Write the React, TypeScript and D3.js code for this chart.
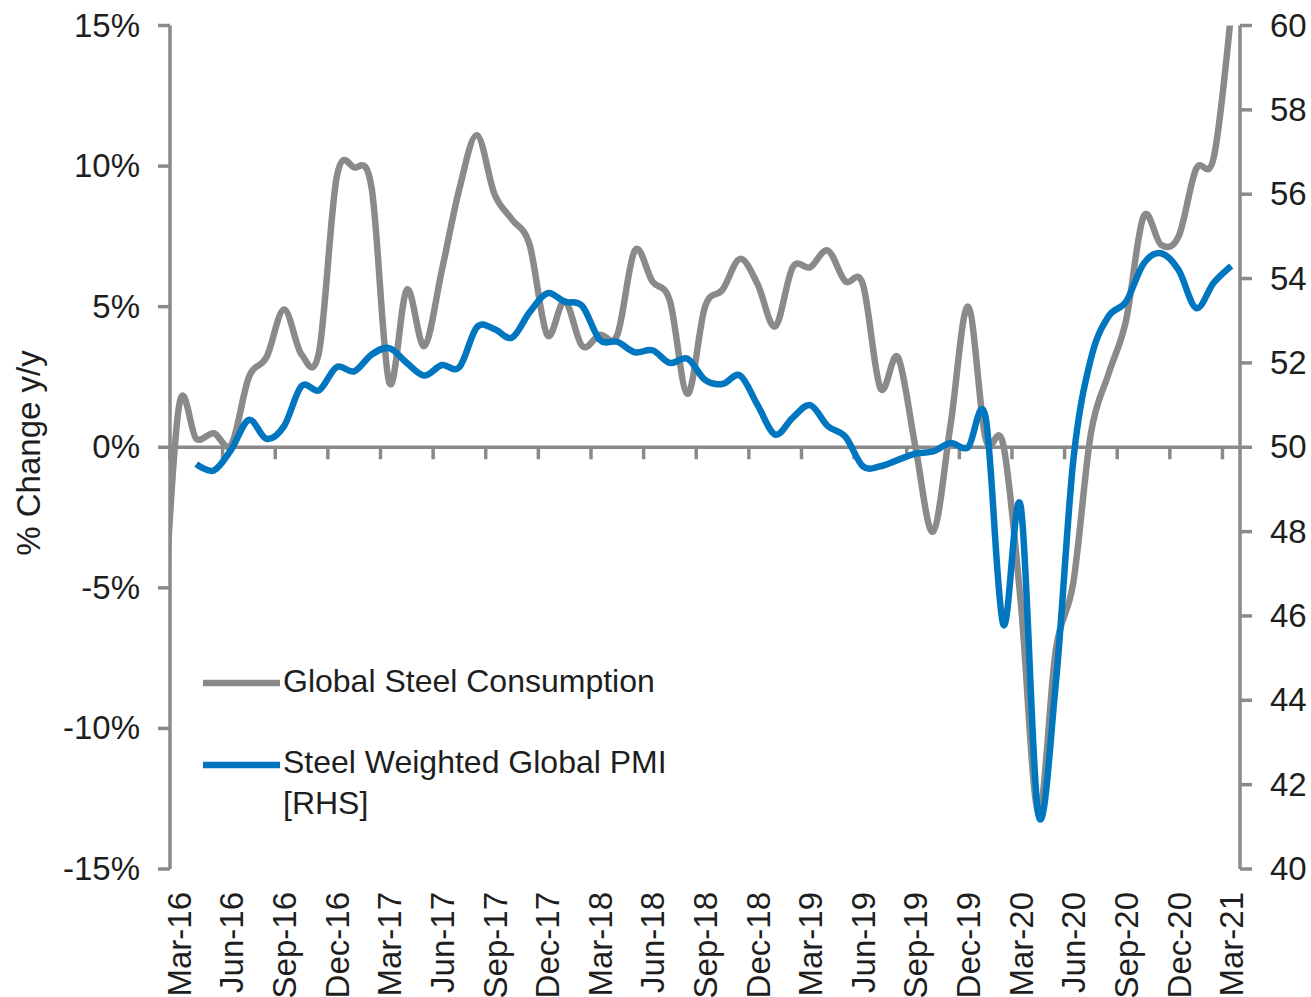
import React from "react";
import * as d3 from "d3";

const months: string[] = [
  "Mar-16","Apr-16","May-16","Jun-16","Jul-16","Aug-16","Sep-16","Oct-16","Nov-16","Dec-16",
  "Jan-17","Feb-17","Mar-17","Apr-17","May-17","Jun-17","Jul-17","Aug-17","Sep-17","Oct-17","Nov-17","Dec-17",
  "Jan-18","Feb-18","Mar-18","Apr-18","May-18","Jun-18","Jul-18","Aug-18","Sep-18","Oct-18","Nov-18","Dec-18",
  "Jan-19","Feb-19","Mar-19","Apr-19","May-19","Jun-19","Jul-19","Aug-19","Sep-19","Oct-19","Nov-19","Dec-19",
  "Jan-20","Feb-20","Mar-20","Apr-20","May-20","Jun-20","Jul-20","Aug-20","Sep-20","Oct-20","Nov-20","Dec-20",
  "Jan-21","Feb-21","Mar-21",
];

// Global steel consumption, % y/y; the series starts one month before the first category (Feb-16)
const consumptionStartIndex = -1;
const consumption: number[] = [
  -8,
  1.4, 0.3, 0.5, 0.1, 2.5, 3.2, 4.9, 3.3, 3.4, 9.6,
  9.95, 9.2, 2.3, 5.6, 3.6, 6.3, 9.2, 11.1, 9.0, 8.1, 7.2, 4.0,
  5.2, 3.6, 4.0, 4.0, 7.0, 5.9, 5.2, 1.9, 5.0, 5.6, 6.7, 5.8,
  4.3, 6.4, 6.4, 7.0, 5.9, 5.8, 2.1, 3.2, 0.0, -3.0, 0.8, 5.0,
  0.3, 0.1, -5.5, -13.0, -7.2, -4.8, 0.5, 2.6, 4.5, 8.2, 7.2, 7.5,
  9.9, 10.3, 15.5,
];

// Steel weighted global PMI (RHS)
const pmi: (number | null)[] = [
  null, 49.6, 49.45, 49.95, 50.65, 50.2, 50.5, 51.45, 51.35, 51.9,
  51.8, 52.2, 52.35, 52.0, 51.7, 51.95, 51.9, 52.85, 52.8, 52.6, 53.2, 53.65,
  53.45, 53.35, 52.55, 52.5, 52.25, 52.3, 52.0, 52.1, 51.6, 51.5, 51.7, 51.0,
  50.3, 50.7, 51.0, 50.5, 50.25, 49.55, 49.55, 49.7, 49.85, 49.9, 50.1, 50.0,
  50.7, 45.8, 48.6, 41.3, 44.4, 49.7, 52.1, 53.1, 53.45, 54.35, 54.6, 54.2,
  53.3, 53.9, 54.3,
];

const leftTicks: number[] = [-15, -10, -5, 0, 5, 10, 15];
const rightTicks: number[] = [40, 42, 44, 46, 48, 50, 52, 54, 56, 58, 60];
const seriesNames: string[] = ["Global Steel Consumption", "Steel Weighted Global PMI", "[RHS]"];
const yTitle = "% Change y/y";

const W = 1311;
const H = 997;
const plot = { left: 170, right: 1240, top: 25.5, bottom: 869 };
const GRAY = "#8a8a8a";
const BLUE = "#0076c0";
const TEXT = "#1e1e1e";
const FONT = "'Liberation Sans', Arial, sans-serif";

export default function App() {
  const n = months.length;
  const x = d3.scaleLinear().domain([-0.5, n - 0.5]).range([plot.left, plot.right]);
  const yL = d3.scaleLinear().domain([-15, 15]).range([plot.bottom, plot.top]);
  const yR = d3.scaleLinear().domain([40, 60]).range([plot.bottom, plot.top]);

  const line = d3.line<[number, number]>().x((d) => d[0]).y((d) => d[1]).curve(d3.curveCatmullRom.alpha(0));

  const grayPts: [number, number][] = consumption.map((v, i) => [x(i + consumptionStartIndex), yL(v)]);
  const bluePts: [number, number][] = [];
  pmi.forEach((v, i) => {
    if (v !== null) bluePts.push([x(i), yR(v)]);
  });

  const zeroY = yL(0);
  const xTickIdx = d3.range(0, n + 1, 3).filter((k) => k <= n);

  return (
    <svg width={W} height={H} style={{ position: "absolute", left: 0, top: 0, background: "#fff" }} fontFamily={FONT}>
      <defs>
        <clipPath id="plotclip">
          <rect x={plot.left} y={plot.top} width={plot.right - plot.left} height={plot.bottom - plot.top} />
        </clipPath>
      </defs>

      {/* left axis */}
      <line x1={plot.left} x2={plot.left} y1={plot.top} y2={plot.bottom} stroke={GRAY} strokeWidth={3.5} />
      {leftTicks.map((t) => (
        <g key={"l" + t}>
          <line x1={plot.left - 12} x2={plot.left} y1={yL(t)} y2={yL(t)} stroke={GRAY} strokeWidth={3.5} />
          <text x={140} y={yL(t) + 11} textAnchor="end" fontSize={33} fill={TEXT}>
            {t + "%"}
          </text>
        </g>
      ))}

      {/* right axis */}
      <line x1={plot.right} x2={plot.right} y1={plot.top} y2={plot.bottom} stroke={GRAY} strokeWidth={3.5} />
      {rightTicks.map((t) => (
        <g key={"r" + t}>
          <line x1={plot.right} x2={plot.right + 12} y1={yR(t)} y2={yR(t)} stroke={GRAY} strokeWidth={3.5} />
          <text x={1270} y={yR(t) + 11} textAnchor="start" fontSize={33} fill={TEXT}>
            {t}
          </text>
        </g>
      ))}

      {/* category axis at zero */}
      <line x1={plot.left} x2={plot.right} y1={zeroY} y2={zeroY} stroke={GRAY} strokeWidth={3.5} />
      {xTickIdx.map((k) => (
        <line key={"xt" + k} x1={x(k - 0.5)} x2={x(k - 0.5)} y1={zeroY} y2={zeroY + 12} stroke={GRAY} strokeWidth={3.5} />
      ))}
      {months.map((m, i) =>
        i % 3 === 0 ? (
          <text
            key={"xl" + i}
            transform={`translate(${x(i) + 12},${892}) rotate(-90)`}
            textAnchor="end"
            fontSize={33}
            fill={TEXT}
          >
            {m}
          </text>
        ) : null
      )}

      {/* y title */}
      <text transform={`translate(40,453) rotate(-90)`} textAnchor="middle" fontSize={33} fill={TEXT}>
        {yTitle}
      </text>

      {/* series */}
      <g clipPath="url(#plotclip)">
        <path d={line(grayPts) || ""} fill="none" stroke={GRAY} strokeWidth={6.5} strokeLinejoin="round" />
        <path d={line(bluePts) || ""} fill="none" stroke={BLUE} strokeWidth={6.5} strokeLinejoin="round" />
      </g>

      {/* legend */}
      <line x1={203} x2={280} y1={683} y2={683} stroke={GRAY} strokeWidth={6.5} />
      <text x={283} y={692} fontSize={32} fill={TEXT}>{seriesNames[0]}</text>
      <line x1={203} x2={280} y1={765} y2={765} stroke={BLUE} strokeWidth={6.5} />
      <text x={283} y={773} fontSize={32} fill={TEXT}>{seriesNames[1]}</text>
      <text x={283} y={814} fontSize={32} fill={TEXT}>{seriesNames[2]}</text>
    </svg>
  );
}
